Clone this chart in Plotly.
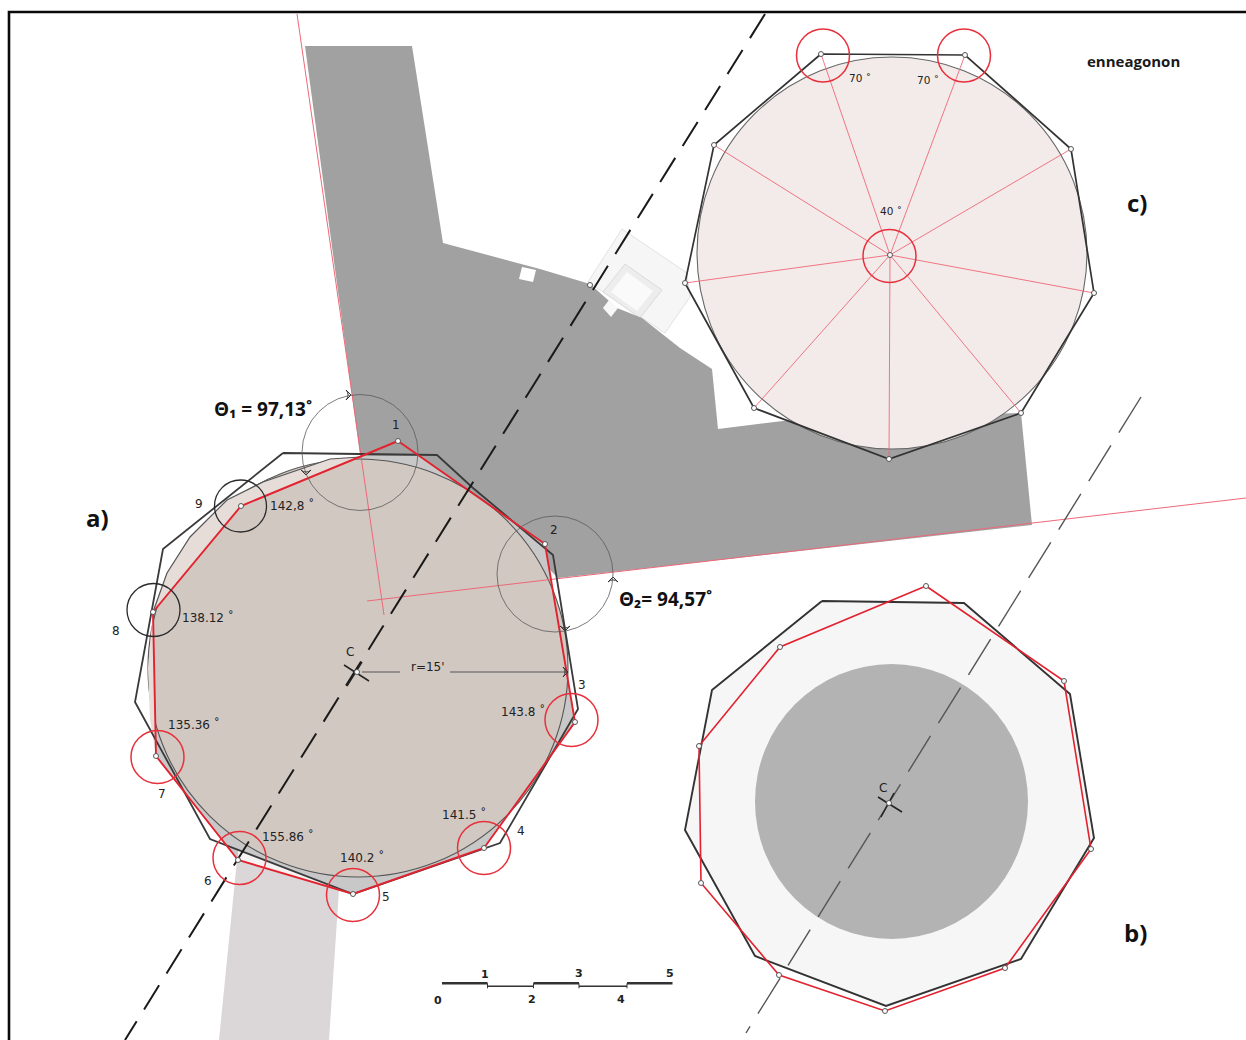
import plotly.graph_objects as go

# ---- plan (site) ----
plan_x = [305, 412, 443, 540, 590, 617, 642, 680, 712, 718, 783, 1021, 1032, 558, 540, 400, 360]
plan_y = [46, 46, 243, 269, 284, 308, 318, 348, 369, 429, 421, 413, 525, 578, 560, 480, 455]
notch1_x = [522, 536, 533, 519]
notch1_y = [267, 270, 282, 279]
notch2_x = [603, 609, 618, 611]
notch2_y = [308, 300, 308, 317]
bldg_x = [622, 687, 690, 665, 588]
bldg_y = [229, 273, 297, 333, 282]
room_x = [625, 662, 640, 603]
room_y = [264, 290, 318, 292]
room_core_x = [627, 653, 637, 611]
room_core_y = [272, 291, 311, 292]
road_x = [237, 339, 329, 219]
road_y = [860, 890, 1040, 1040]

# ---- a) ----
a_black_x = [283, 437, 473, 553, 578, 500, 353, 210, 135, 163]
a_black_y = [453, 455, 488, 555, 709, 843, 894, 839, 702, 549]
a_red_x = [398, 545, 575, 484, 353, 238, 156, 153, 241]
a_red_y = [441, 544, 722, 848, 894, 860, 756, 612, 506]
a_tip_x = [360, 398, 420]
a_tip_y = [456, 441, 456]
a_wedge_x = [353, 238, 238]
a_wedge_y = [894, 860, 850]
a_sliver_x = [153, 241, 360, 330, 263, 227, 190, 167, 153, 148, 150, 156]
a_sliver_y = [612, 506, 457, 459, 482, 500, 537, 573, 612, 668, 720, 756]
a_arc_x = [360, 330, 263, 227, 190, 167, 153]
a_arc_y = [457, 459, 482, 500, 537, 573, 612]
a_disk = [358, 668, 210, 209]

# ---- b) ----
b_black_x = [822, 964, 1070, 1094, 1021, 886, 755, 685, 712]
b_black_y = [601, 603, 694, 838, 959, 1006, 956, 830, 690]
b_red_x = [926, 1064, 1091, 1005, 885, 779, 701, 699, 780]
b_red_y = [586, 681, 849, 968, 1011, 975, 883, 746, 647]
b_disk = [891.5, 801.5, 136.5, 137.5]

# ---- c) ----
c_x = [821, 965, 1071, 1094, 1021, 889, 754, 685, 714]
c_y = [54, 55, 149, 293, 413, 459, 408, 283, 145]
c_center = [890, 255]
c_disk = [892, 253, 195, 196]

# ---- construction lines ----
axis_a_x = [765, 125]
axis_a_y = [14, 1040]
axis_b_x = [1141, 746]
axis_b_y = [397, 1033]
theta1_x = [297, 384]
theta1_y = [14, 615]
theta2_x = [367, 1246]
theta2_y = [601, 498]
frame_x = [9, 9, 1246]
frame_y = [1040, 12, 12]
cross_a = [[344, 369, 665, 681], [362, 347, 662, 686]]
cross_b = [[878, 902, 797, 812], [894, 881, 793, 817]]
r_left_x = [362, 400]
r_right_x = [450, 568]
r_y = [672, 672]

# ---- circles: cx, cy, r ----
gray_circles = [[360, 452.5, 58], [555, 574, 58]]
black_circles = [[240.5, 506, 26], [153.5, 610, 26.5]]
red_circles = [[157.5, 757, 26.5], [239.5, 858, 26.5], [353, 895, 26.5], [484, 848, 26.5],
               [571.5, 720, 26.5], [823, 55.5, 26.5], [964, 55.5, 26.5], [889.5, 256, 26.5]]

# ---- scale bar ----
scale_thick = [[442, 487.5], [533.5, 579], [627, 672.5]]
scale_thin = [[487.5, 533.5], [579, 627]]
scale_thick_y = 983.3
scale_thin_y = 986.3

# ---- arrowheads ----
arrow_x = [351, 306, 613, 565, 568]
arrow_y = [395, 475, 577, 631, 672]
arrow_angle = [90, 180, 0, 180, 90]

# ---- text: label, x, y ----
vertex_labels = [("1", 396, 425), ("2", 554, 530), ("3", 582, 685), ("4", 521, 831), ("5", 386, 897),
                 ("6", 208, 881), ("7", 162, 794), ("8", 116, 631), ("9", 199, 504)]
angle_labels = [("142,8 ˚", 292, 505), ("138.12 ˚", 208, 617), ("135.36 ˚", 194, 724), ("155.86 ˚", 288, 836),
                ("140.2 ˚", 362, 857), ("141.5 ˚", 464, 814), ("143.8 ˚", 523, 711), ("r=15'", 428, 667),
                ("C", 350, 652), ("C", 883, 788)]
c_labels = [("70 ˚", 860, 78), ("70 ˚", 928, 80), ("40 ˚", 891, 211)]
big_labels = [("a)", 97, 517), ("b)", 1135, 932), ("c)", 1137, 202)]
theta_labels = [("Θ₁ = 97,13˚", 263, 409), ("Θ₂= 94,57˚", 665, 599)]
scale_labels = [("0", 438, 1000), ("1", 485, 974), ("2", 532, 999), ("3", 579, 973), ("4", 621, 999), ("5", 670, 973)]
title_label = ("enneagonon", 1133, 61)

PLAN = "#a1a1a1"
RED = "#e3222f"
THIN_RED = "#ee6878"
DARK = "#333333"


def poly_path(xs, ys):
    return "M" + " L".join(f"{x},{y}" for x, y in zip(xs, ys)) + " Z"


def fill_poly(xs, ys, color, edge=None, w=0):
    return dict(type="path", path=poly_path(xs, ys), xref="x", yref="y", layer="below",
                fillcolor=color, line=dict(color=edge or color, width=w))


def ellipse(cx, cy, rx, ry, fill=None, edge=None, w=0, layer="below"):
    return dict(type="circle", xref="x", yref="y", x0=cx - rx, x1=cx + rx, y0=cy - ry, y1=cy + ry, layer=layer,
                fillcolor=fill or "rgba(0,0,0,0)", line=dict(color=edge or "rgba(0,0,0,0)", width=w))


shapes = [
    fill_poly(road_x, road_y, "#dbd7d9"),
    fill_poly(bldg_x, bldg_y, "#f6f6f6", "#dcdcdc", 0.8),
    fill_poly(room_x, room_y, "#ededed", "#d4d4d4", 0.8),
    fill_poly(room_core_x, room_core_y, "#fafafa"),
    fill_poly(plan_x, plan_y, PLAN),
    fill_poly(notch1_x, notch1_y, "#ffffff"),
    fill_poly(notch2_x, notch2_y, "#f8f8f8"),
    fill_poly(a_red_x, a_red_y, "#c8c8c8"),
    fill_poly(a_tip_x, a_tip_y, PLAN),
    fill_poly(a_wedge_x, a_wedge_y, "#f4f2f2"),
    ellipse(*a_disk, fill="#d1c8c2", edge="#555555", w=1.1),
    fill_poly(a_sliver_x, a_sliver_y, "#e6dcd8"),
    fill_poly(b_black_x, b_black_y, "#f6f6f6"),
    ellipse(*b_disk, fill="#b3b3b3"),
    ellipse(*c_disk, fill="#f3ebe9", edge="#666666", w=1.1),
]
for cx, cy, r in gray_circles:
    shapes.append(ellipse(cx, cy, r, r, edge="#5a5a5a", w=0.8, layer="above"))
for cx, cy, r in black_circles:
    shapes.append(ellipse(cx, cy, r, r, edge="#2a2a2a", w=1.3, layer="above"))
for cx, cy, r in red_circles:
    shapes.append(ellipse(cx, cy, r, r, edge="#e8303c", w=1.5, layer="above"))

fig = go.Figure()


def line(xs, ys, color, w, dash=None, name=""):
    fig.add_trace(go.Scatter(x=xs, y=ys, mode="lines", name=name, hoverinfo="skip",
                             line=dict(color=color, width=w, dash=dash)))


def closed(v):
    return list(v) + [v[0]]


def dots(xs, ys, name=""):
    fig.add_trace(go.Scatter(x=xs, y=ys, mode="markers", name=name, hoverinfo="skip",
                             marker=dict(size=5, color="white", line=dict(color="#555555", width=1))))


line(theta1_x, theta1_y, THIN_RED, 1, name="theta1")
line(theta2_x, theta2_y, THIN_RED, 1, name="theta2")
for vx, vy in zip(c_x, c_y):
    line([c_center[0], vx], [c_center[1], vy], THIN_RED, 0.9, name="spoke")
line(a_arc_x, a_arc_y, "#555555", 1.2, name="a arc")
line(closed(a_black_x), closed(a_black_y), "#3a3a3a", 1.8, name="a polygon")
line(closed(a_red_x), closed(a_red_y), RED, 1.9, name="a measured")
line(closed(b_black_x), closed(b_black_y), DARK, 1.9, name="b polygon")
line(closed(b_red_x), closed(b_red_y), RED, 1.6, name="b measured")
line(closed(c_x), closed(c_y), DARK, 1.7, name="c polygon")
line(axis_a_x, axis_a_y, "#1a1a1a", 2, dash="28.4px,14px", name="axis a")
line(axis_b_x, axis_b_y, "#555555", 1.4, dash="42px,15px", name="axis b")
for cr in cross_a + cross_b:
    line(cr[:2], cr[2:], "#222222", 1.5, name="centre")
line(r_left_x, r_y, "#555555", 1, name="r")
line(r_right_x, r_y, "#555555", 1, name="r")
for seg in scale_thick:
    line(seg, [scale_thick_y, scale_thick_y], "#333333", 2.6, name="scale")
for seg in scale_thin:
    line(seg, [scale_thin_y, scale_thin_y], "#333333", 1.6, name="scale")
    line([seg[0], seg[0]], [scale_thick_y, scale_thin_y + 2], "#333333", 1, name="scale")
    line([seg[1], seg[1]], [scale_thick_y, scale_thin_y + 2], "#333333", 1, name="scale")
line(frame_x, frame_y, "#0a0a0a", 2.6, name="frame")

dots(a_red_x + [357], a_red_y + [672], "a vertices")
dots(b_red_x + [889], b_red_y + [803], "b vertices")
dots(c_x + c_center[:1] + [590], c_y + c_center[1:] + [285], "c vertices")
fig.add_trace(go.Scatter(x=arrow_x, y=arrow_y, mode="markers", hoverinfo="skip", name="arrows",
                         marker=dict(symbol="arrow-wide-open", size=7, angle=arrow_angle, color="#333333",
                                     line=dict(color="#333333", width=1))))


def labels(items, size, family="DejaVu Sans", color="#222222", bold=False):
    for t, x, y in items:
        fig.add_annotation(x=x, y=y, text=f"<b>{t}</b>" if bold else t, showarrow=False, xanchor="center",
                           yanchor="middle", font=dict(size=size, family=family, color=color))


labels(vertex_labels, 12)
labels(angle_labels, 12)
labels(c_labels, 10.5)
labels(big_labels, 24, family="Open Sans", color="#111111", bold=True)
labels(theta_labels, 19, family="Open Sans", color="#111111", bold=True)
labels(scale_labels, 11, bold=True)
labels([title_label], 15, family="Open Sans", color="#1a1a1a", bold=True)

fig.update_layout(
    width=1246, height=1040, autosize=False,
    margin=dict(l=0, r=0, t=0, b=0),
    paper_bgcolor="white", plot_bgcolor="white",
    showlegend=False, shapes=shapes,
    xaxis=dict(range=[0, 1246], visible=False, fixedrange=True),
    yaxis=dict(range=[1040, 0], visible=False, fixedrange=True),
)

fig.write_html("out.html", config=dict(displayModeBar=False),
               post_script="document.body.style.margin='0';document.documentElement.style.overflow='hidden';")
